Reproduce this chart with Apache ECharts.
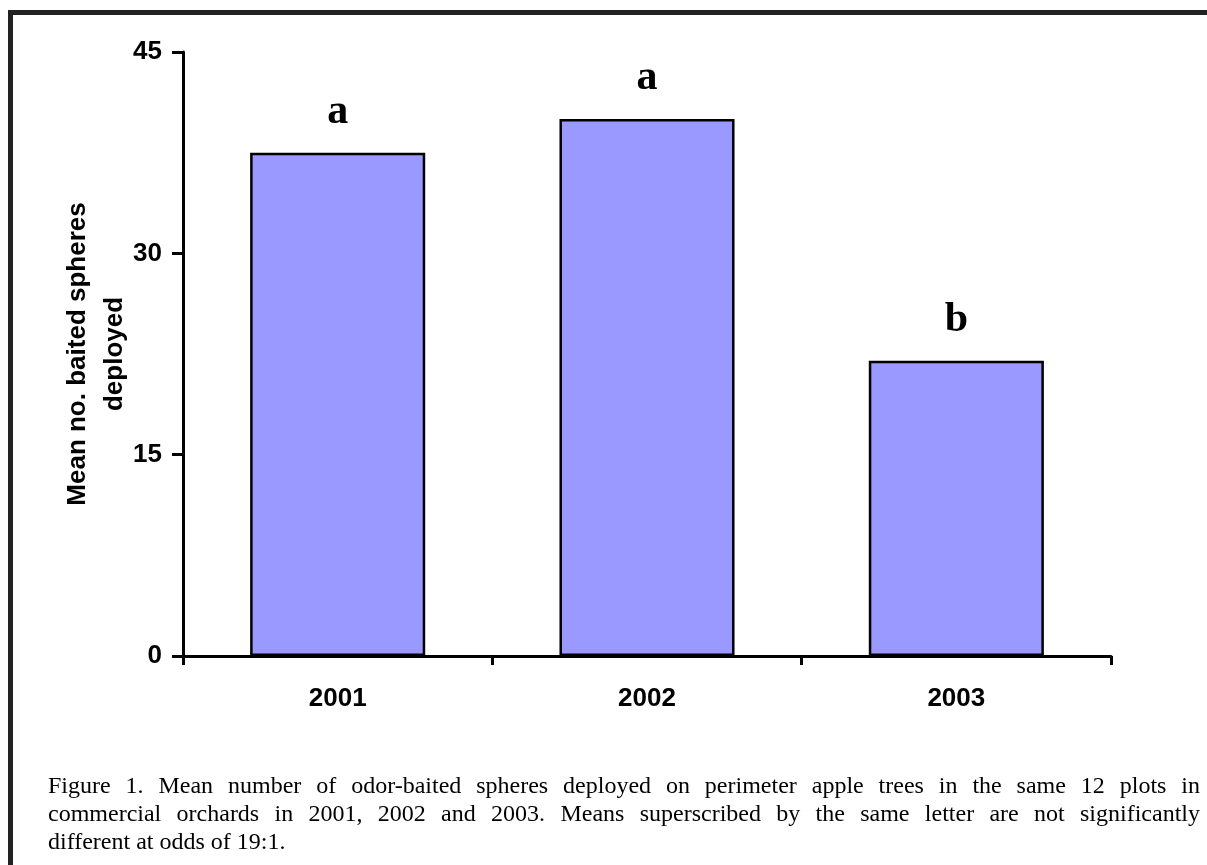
<!DOCTYPE html>
<html>
<head>
<meta charset="utf-8">
<script src="https://cdn.jsdelivr.net/npm/echarts@6/dist/echarts.min.js"></script>
<style>
  html, body { margin: 0; padding: 0; background: #fff; }
  #chart { width: 1207px; height: 865px; }
</style>
</head>
<body>
<div id="chart"></div>
<script>
var years = ['2001', '2002', '2003'];
var meanSpheres = [37.5, 40, 22];
var letters = ['a', 'a', 'b'];
var captionLines = [
    'Figure 1.  Mean number of odor-baited spheres deployed on perimeter apple trees in the same 12 plots in',
    'commercial orchards in 2001, 2002 and 2003. Means superscribed by the same letter are not significantly',
    'different at odds of 19:1.'
];

var captionFont = '24px "Liberation Serif", "Times New Roman", serif';
var sansFont = '"Liberation Sans", Arial, sans-serif';

var myChart = echarts.init(document.getElementById('chart'));

var barData = [];
for (var i = 0; i < meanSpheres.length; i++) {
    barData.push({ value: meanSpheres[i], letter: letters[i] });
}

// caption is justified between x=48 and x=1200, last line left aligned
var ctx = document.createElement('canvas').getContext('2d');
ctx.font = captionFont;
var graphics = [
    { type: 'rect', shape: { x: 8, y: 10, width: 5, height: 855 }, style: { fill: '#222' } },
    { type: 'rect', shape: { x: 8, y: 10, width: 1199, height: 5 }, style: { fill: '#222' } }
];
for (var j = 0; j < captionLines.length; j++) {
    var y = 775 + j * 28;
    if (j == captionLines.length - 1) {
        graphics.push({ type: 'text', x: 48, y: y,
            style: { text: captionLines[j], font: captionFont, fill: '#000' } });
        continue;
    }
    var words = captionLines[j].split(/\s+/);
    var total = 0;
    for (var k = 0; k < words.length; k++) total += ctx.measureText(words[k]).width;
    var gap = (1200 - 48 - total) / (words.length - 1);
    var x = 48;
    for (var k = 0; k < words.length; k++) {
        graphics.push({ type: 'text', x: x, y: y,
            style: { text: words[k], font: captionFont, fill: '#000' } });
        x += ctx.measureText(words[k]).width + gap;
    }
}

var option = {
    animation: false,
    backgroundColor: '#fff',
    grid: { left: 183, right: 96, top: 52, bottom: 209, containLabel: false },
    xAxis: {
        type: 'category',
        data: years,
        boundaryGap: true,
        axisLine: { lineStyle: { color: '#000', width: 3 } },
        axisTick: { show: true, length: 9, lineStyle: { color: '#000', width: 3 } },
        axisLabel: {
            color: '#000', fontSize: 26, fontWeight: 'bold',
            fontFamily: sansFont, margin: 30
        }
    },
    yAxis: {
        type: 'value',
        min: 0,
        max: 45,
        interval: 15,
        name: 'Mean no. baited spheres\ndeployed',
        nameLocation: 'middle',
        nameRotate: 90,
        nameGap: 50,
        nameMoveOverlap: false,
        nameTextStyle: {
            color: '#000', fontSize: 26, fontWeight: 'bold',
            fontFamily: sansFont, lineHeight: 37
        },
        axisLine: { show: true, lineStyle: { color: '#000', width: 3 } },
        axisTick: { show: true, length: 11, lineStyle: { color: '#000', width: 3 } },
        axisLabel: {
            color: '#000', fontSize: 26, fontWeight: 'bold',
            fontFamily: sansFont, margin: 21
        },
        splitLine: { show: false }
    },
    series: [{
        type: 'bar',
        data: barData,
        barWidth: '56.6%',
        itemStyle: { color: '#9999FF', borderColor: '#000', borderWidth: 2.5 },
        label: {
            show: true,
            position: 'top',
            distance: 20,
            formatter: function (p) { return p.data.letter; },
            color: '#000',
            fontSize: 42,
            fontWeight: 'bold',
            fontFamily: '"Liberation Serif", "Times New Roman", serif'
        }
    }],
    graphic: graphics
};
myChart.setOption(option);
</script>
</body>
</html>
